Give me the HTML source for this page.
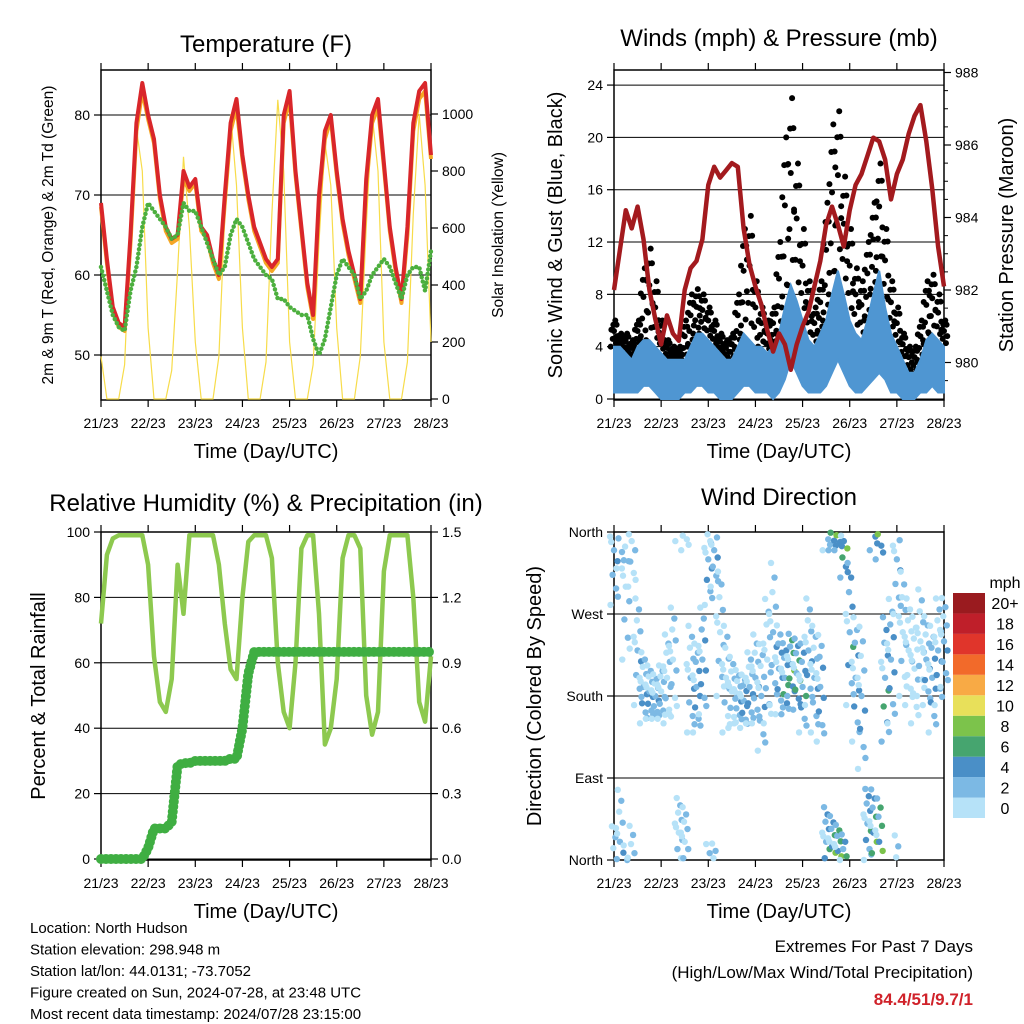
<!DOCTYPE html>
<html><head><meta charset="utf-8"><style>
html,body{margin:0;padding:0;background:#fff;}
svg{display:block;font-family:"Liberation Sans",Arial,sans-serif;}
</style></head><body>
<svg id="c" width="1024" height="1024" viewBox="0 0 1024 1024"></svg>
<script>
// ---------- DATA (3-hourly, hours 0..168 from 21/23) ----------
const dayLabels=["21/23","22/23","23/23","24/23","25/23","26/23","27/23","28/23"];
const tempRed=[69,62,56,54,53.5,65,79,84,80,77,70,66,64.5,65,73,71,72,66,65,62,60,70,79,82,75,70,66,64,62,61,62,80,83,73,66,59,55,70,78,80,73,67,63,60,57,72,80,82,74,66,61,57,66,79,83,84,75];
const tempOrange=[68.5,61.5,55.5,53.5,53,64,78,83,79.5,76.5,69.5,65.5,64,64.5,72,70.5,71.5,65.5,64.5,61.5,59.5,69,78,81,74.5,69.5,65.5,63.5,61.5,60.5,61.5,79,82,72.5,65.5,58.5,54.5,69,77,79.5,72.5,66.5,62.5,59.5,56.5,71,79,81,73.5,65.5,60.5,56.5,65,78,82,83,74.5];
const dewGreen=[61,58,55,53.5,53,58,61,66,69,68,67,66,64.5,65,69,68,68,66,64,62,60,61,65,67,66,64,62,61,60,59.5,57,57,56,55.5,55,55,52,50,52,56,60,62,61,60,57,58,60,61,62,61,59,57,60,61,61,58,63];
const solar=[150,0,0,0,120,600,950,800,250,0,0,0,100,450,850,600,200,0,0,0,150,650,1000,750,250,0,0,0,130,650,1050,800,200,0,0,0,120,550,900,750,250,0,0,0,150,600,1000,800,200,0,0,0,130,650,1000,750,200];
const windHi=[4,4,3.5,3,4,4.5,4.5,4,3.5,3,3,3,3,4,5,5,4.5,4,3.5,3,3,4,5,4.5,4,4,3.5,4,5,7,8.7,7.5,6,4.5,4,5,6,8,9.8,8,6,5,4.5,6,8,9.8,7,5,4,3,2,2,3,4.5,5,4.5,4];
const windLo=[0.5,0.5,0.5,0.5,0.5,1,1,0.5,0,0,0,0,0.5,0.5,1,1,0.5,0.5,0,0,0,0.5,1,1,0.5,0.5,0.5,0,0.5,1.5,3,2,1,0.5,0.5,0.5,1,2,3,2,1,0.5,0.5,1,1.5,2,1.5,0.5,0.5,0,0,0,0.5,0.5,1,0.5,0.5];
const gustMax=[6,5,5,4.5,6,10,11.5,9,6,4.5,4,4,6,8,8.4,8,7,6,5,4.5,5,8,13,14,9,7,6,7,12,20,23,18,13,9,7,9,15,21,22,17,13,10,9,12,15,18,13,9,7,5,4,4,6,9,9.5,8,6];
const pressure=[982.0,983.1,984.2,983.7,984.3,983.4,982.0,981.2,980.5,981.3,980.8,980.6,982.0,982.6,982.8,983.4,984.9,985.4,985.1,985.3,985.5,985.4,983.7,982.7,982.1,981.6,980.9,980.3,980.8,980.5,979.8,980.5,981.0,981.4,982.1,982.8,983.8,984.3,983.8,983.2,984.2,984.9,985.2,985.7,986.2,986.1,985.6,984.5,985.2,985.6,986.3,986.8,987.1,986.1,984.8,983.2,982.1];
const rh=[72,93,98,99,99,99,99,99,90,62,48,45,55,90,75,99,99,99,99,99,90,72,58,55,80,97,99,99,99,92,60,45,40,60,95,99,99,75,35,40,55,92,99,99,95,50,38,45,88,99,99,99,99,80,48,42,62];
const precip=[0,0,0,0,0,0,0,0,0.05,0.14,0.14,0.14,0.17,0.43,0.44,0.44,0.45,0.45,0.45,0.45,0.45,0.45,0.46,0.46,0.6,0.85,0.95,0.95,0.95,0.95,0.95,0.95,0.95,0.95,0.95,0.95,0.95,0.95,0.95,0.95,0.95,0.95,0.95,0.95,0.95,0.95,0.95,0.95,0.95,0.95,0.95,0.95,0.95,0.95,0.95,0.95,0.95];
const dirCenter=[340,20,300,350,230,190,185,180,185,200,220,30,20,200,190,220,330,340,250,200,185,180,175,190,200,180,220,250,210,200,215,205,190,230,200,190,20,15,10,350,250,200,180,40,30,20,200,220,330,250,230,210,240,220,200,230,240];
const dirSpread=[60,60,80,50,60,40,30,25,30,50,60,40,40,60,50,60,50,40,70,60,40,30,30,40,50,60,70,80,50,40,35,40,50,60,60,60,40,35,30,40,80,70,80,40,50,50,70,70,60,70,60,60,60,50,60,60,50];
const tempTicks=[50,60,70,80];
const solarTicks=[0,200,400,600,800,1000];
const windTicks=[0,4,8,12,16,20,24];
const presTicks=[980,982,984,986,988];
const rhTicks=[0,20,40,60,80,100];
const prTicks=["0.0","0.3","0.6","0.9","1.2","1.5"];
const dirTicks=["North","East","South","West","North"];
const legendLabels=["0","2","4","6","8","10","12","14","16","18","20+"];
const legendColors=["#b6e2f8","#7cb9e4","#4a8fc7","#46a56f","#7cc34b","#e8e05a","#f8aa45","#f26a2a","#e0352b","#bf1f2a","#9a1b1f"];

// ---------- helpers ----------
const NS="http://www.w3.org/2000/svg";
const svg=document.getElementById('c');
function mk(tag,attrs,parent){const e=document.createElementNS(NS,tag);for(const k in attrs)e.setAttribute(k,attrs[k]);(parent||svg).appendChild(e);return e;}
function txt(s,x,y,size,anchor,parent,extra){const e=mk('text',Object.assign({x:x,y:y,'font-size':size,'text-anchor':anchor||'middle',fill:'#000'},extra||{}),parent);e.textContent=s;return e;}
const H=i=>i*3;
const panels={
 temp:{x0:101,x1:431,y0:70,y1:400},
 wind:{x0:614,x1:944,y0:70,y1:400},
 rh:{x0:101,x1:431,y0:532,y1:860},
 dir:{x0:614,x1:944,y0:532,y1:860}
};
function xs(p){return h=>p.x0+h/168*(p.x1-p.x0);}
function frame(p,name){
 const g=mk('g',{});
 
 
 mk('rect',{x:p.x0,y:p.y0,width:p.x1-p.x0,height:p.y1-p.y0,fill:'none',stroke:'#000','stroke-width':1.5},g);
 const X=xs(p);
 for(let d=0;d<=7;d++){const x=X(d*24);
  mk('line',{x1:x,y1:p.y1,x2:x,y2:p.y1+7,stroke:'#000','stroke-width':1.2},g);
  mk('line',{x1:x,y1:p.y0,x2:x,y2:p.y0-7,stroke:'#000','stroke-width':1.2},g);
  const t=txt(dayLabels[d],x,p.y1+28,14,'middle',g);
  
  
 }
 const xt=txt('Time (Day/UTC)',(p.x0+p.x1)/2,p.y1+58,20,'middle',g);
 
 
 return g;
}
function hgrid(p,y,g){mk('line',{x1:p.x0,y1:y,x2:p.x1,y2:y,stroke:'#000','stroke-width':1},g);}
function ltick(p,y,label,g){mk('line',{x1:p.x0-7,y1:y,x2:p.x0,y2:y,stroke:'#000','stroke-width':1.2},g);if(label!==null){const t=txt(label,p.x0-11,y+5,14,'end',g);}}
function rtick(p,y,label,g){mk('line',{x1:p.x1,y1:y,x2:p.x1+7,y2:y,stroke:'#000','stroke-width':1.2},g);if(label!==null){const t=txt(label,p.x1+11,y+5,14,'start',g);}}
function vlabel(s,x,y,size,g){const t=mk('text',{x:0,y:0,'font-size':size,'text-anchor':'middle',transform:`translate(${x},${y}) rotate(-90)`},g);t.textContent=s;return t;}
function pts(arr,X,Y){return arr.map((v,i)=>X(H(i)).toFixed(1)+','+Y(v).toFixed(1)).join(' ');}

// ---------- Temperature ----------
(function(){
 const p=panels.temp,X=xs(p);
 const yT=t=>115+(80-t)*8, yS=s=>399-s*0.285;
 const g=frame(p,'temperature');
 tempTicks.forEach(t=>{hgrid(p,yT(t),g);ltick(p,yT(t),String(t),g);});
 solarTicks.forEach(s=>rtick(p,yS(s),String(s),g));
 const sol=mk('polyline',{points:pts(solar,X,yS),fill:'none',stroke:'#f7dc4a','stroke-width':1.2});
 
 
 const o=mk('polyline',{points:pts(tempOrange,X,yT),fill:'none',stroke:'#f5a623','stroke-width':4,'stroke-linejoin':'round'});
 
 
 const r=mk('polyline',{points:pts(tempRed,X,yT),fill:'none',stroke:'#d9262a','stroke-width':4,'stroke-linejoin':'round'});
 
 
 const d=mk('polyline',{points:pts(dewGreen,X,yT),fill:'none',stroke:'#4caf3e','stroke-width':4.5,'stroke-linecap':'round','stroke-dasharray':'0 4.5'});
 
 
 const t=txt('Temperature (F)',266,52,24,'middle');
 
 
 const l=vlabel('2m & 9m T (Red, Orange) & 2m Td (Green)',53,235,15.5);
 
 
 const l2=vlabel('Solar Insolation (Yellow)',503,235,15.5);
 
 
})();

// ---------- Winds ----------
(function(){
 const p=panels.wind,X=xs(p);
 const yW=v=>399-v*13.08, yP=q=>145+(986-q)*36.25;
 const g=frame(p,'winds');
 windTicks.forEach(v=>{hgrid(p,yW(v),g);ltick(p,yW(v),String(v),g);});
 presTicks.forEach(q=>rtick(p,yP(q),String(q),g));
 for(let q=979.5;q<=988;q+=0.5){if(q%2!==0)mk('line',{x1:p.x1,y1:yP(q),x2:p.x1+4,y2:yP(q),stroke:'#000','stroke-width':1},g);}
 const gg=mk('g',{});
 
 
 const fr=[0,0.15,0.3,0.45,0.6,0.72,0.84,0.93,1];
 const jx=[-2.5,1.5,-1,2.5,0,-2,2,-0.5,1];
 gustMax.forEach((gv,i)=>{
  fr.forEach((f,k)=>{
   const v=windHi[i]+(gv-windHi[i])*f*(k%2?0.9:1);
   mk('circle',{cx:X(H(i))+jx[k]*1.3,cy:yW(v),r:3,fill:'#000'},gg);
  });
 });
 const top=windHi.map((v,i)=>X(H(i)).toFixed(1)+','+yW(v).toFixed(1));
 const bot=windLo.map((v,i)=>X(H(i)).toFixed(1)+','+yW(v).toFixed(1)).reverse();
 const band=mk('polygon',{points:top.concat(bot).join(' '),fill:'#4f96d2',stroke:'#4f96d2','stroke-width':2});
 
 
 const pl=mk('polyline',{points:pts(pressure,X,yP),fill:'none',stroke:'#a31a1e','stroke-width':4.5,'stroke-linejoin':'round'});
 
 
 const t=txt('Winds (mph) & Pressure (mb)',779,46,24,'middle');
 
 
 const l=vlabel('Sonic Wind & Gust (Blue, Black)',562,235,20);
 
 
 const l2=vlabel('Station Pressure (Maroon)',1013,235,20);
 
 
})();

// ---------- RH ----------
(function(){
 const p=panels.rh,X=xs(p);
 const yR=r=>859-r*3.27, yPr=q=>859-q*218;
 const g=frame(p,'humidity');
 rhTicks.forEach(r=>{hgrid(p,yR(r),g);ltick(p,yR(r),String(r),g);});
 prTicks.forEach(s=>rtick(p,yPr(parseFloat(s)),s,g));
 const l1=mk('polyline',{points:pts(rh,X,yR),fill:'none',stroke:'#8dc94f','stroke-width':4.5,'stroke-linejoin':'round'});
 
 
 const l2=mk('polyline',{points:pts(precip,X,yPr),fill:'none',stroke:'#3fae42','stroke-width':10,'stroke-linecap':'round','stroke-dasharray':'0 5'});
 
 
 const t=txt('Relative Humidity (%) & Precipitation (in)',266,511,24,'middle');
 
 
 const l=vlabel('Percent & Total Rainfall',45,696,20);
 
 
})();

// ---------- Wind direction ----------
(function(){
 const p=panels.dir,X=xs(p);
 const yD=d=>860-d/360*328;
 const g=frame(p,'wind-direction');
 dirTicks.forEach((s,i)=>{const y=yD(i*90);hgrid(p,y,g);ltick(p,y,s,g);});
 const off=[-1,-0.7,-0.45,-0.2,0,0.15,0.35,0.55,0.75,0.95,-0.85,0.25];
 const jx=[-2.5,1.5,-1,2.5,0,-2,2,-0.5,1,-1.5,2.8,-2.8];
 const sf=[0.3,0.6,0.9,1,0.5,0.2,0.8,0.4,0.7,0.35,0.55,0.15];
 const dg=mk('g',{});
 
 
 dirCenter.forEach((c,i)=>{
  off.forEach((o,k)=>{
   let d=((c+o*dirSpread[i])%360+360)%360;
   const sp=windHi[i]*sf[k];
   const ci=Math.min(10,Math.max(0,Math.floor(sp/2)));
   mk('circle',{cx:X(H(i))+jx[k]*1.4,cy:yD(d),r:3.2,fill:legendColors[ci]},dg);
  });
 });
 const lg=mk('g',{});
 
 
 const bh=225/11;
 legendColors.forEach((c,i)=>{
  const y=818-(i+1)*bh;
  mk('rect',{x:953,y:y,width:32,height:bh,fill:c},lg);
  txt(legendLabels[i],1005,y+bh/2+6,16,'middle',lg);
 });
 txt('mph',1005,588,16,'middle',lg);
 const t=txt('Wind Direction',779,505,24,'middle');
 
 
 const l=vlabel('Direction (Colored By Speed)',541,696,20);
 
 
})();

// ---------- footer ----------
const info=["Location: North Hudson","Station elevation: 298.948 m","Station lat/lon: 44.0131; -73.7052","Figure created on Sun, 2024-07-28, at 23:48 UTC","Most recent data timestamp: 2024/07/28 23:15:00"];
const ig=mk('g',{});


info.forEach((s,i)=>txt(s,30,933+i*21.5,15,'start',ig));
const eg=mk('g',{});


txt('Extremes For Past 7 Days',973,952,17,'end',eg);
txt('(High/Low/Max Wind/Total Precipitation)',973,978,17,'end',eg);
txt('84.4/51/9.7/1',973,1005,17,'end',eg,{fill:'#d0222a','font-weight':'bold'});
</script>
</body></html>
